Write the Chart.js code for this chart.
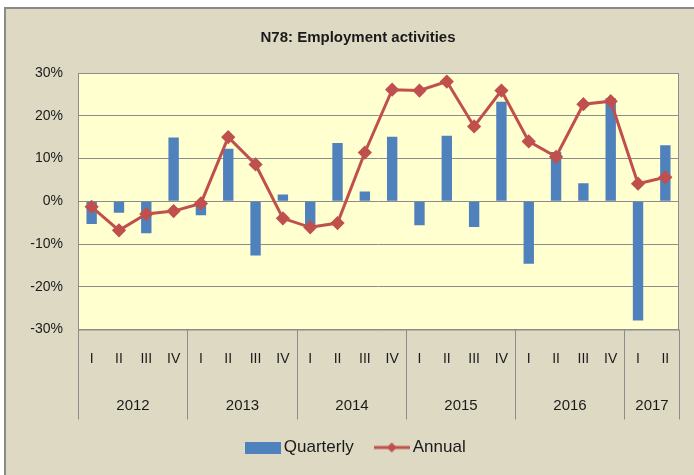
<!DOCTYPE html>
<html>
<head>
<meta charset="utf-8">
<script src="https://cdn.jsdelivr.net/npm/chart.js@4.4.0/dist/chart.umd.min.js"></script>
<style>
  html, body { margin: 0; padding: 0; background: #fff; overflow: hidden; }
  #frame { position: absolute; left: 4px; top: 7px; width: 710px; height: 490px; border: 2px solid #8a8a8a; background: #ddd9c3; }
  #wrap { position: absolute; left: 0; top: 0; width: 694px; height: 475px; }
</style>
</head>
<body>
<div id="frame"></div>
<div id="wrap"><canvas id="chart"></canvas></div>
<script>
const quarters = ['I', 'II', 'III', 'IV', 'I', 'II', 'III', 'IV', 'I', 'II', 'III', 'IV',
  'I', 'II', 'III', 'IV', 'I', 'II', 'III', 'IV', 'I', 'II']
const years = ['2012', '2013', '2014', '2015', '2016', '2017']
const quartersPerYear = [4, 4, 4, 4, 4, 2]
const quarterly = [-5.3, -2.7, -7.5, 14.9, -3.3, 12.3, -12.7, 1.6, -5.6, 13.6, 2.3, 15.1,
  -5.6, 15.3, -6.0, 23.3, -14.6, 11.5, 4.2, 24.1, -27.9, 13.1]
const annual = [-1.3, -6.8, -3.0, -2.3, -0.5, 15.0, 8.6, -4.0, -6.1, -5.1, 11.4, 26.1,
  25.9, 28.0, 17.5, 25.9, 14.0, 10.4, 22.7, 23.4, 4.1, 5.6]

const FONT = "'Liberation Sans', Arial, sans-serif"
const BLUE = '#4f81bd'
const RED = '#c0504d'
const GRID = '#8c8c8c'
const TEXT = '#1a1a1a'

// legend symbols, drawn wider than the legend box so the text sits close
function swatch (kind) {
  const c = document.createElement('canvas')
  c.width = 36
  c.height = 12
  const g = c.getContext('2d')
  if (kind === 'bar') {
    g.fillStyle = BLUE
    g.fillRect(0, 0, 36, 12)
  } else {
    g.strokeStyle = RED
    g.lineWidth = 3
    g.beginPath(); g.moveTo(0, 6); g.lineTo(36, 6); g.stroke()
    g.fillStyle = RED
    g.beginPath(); g.moveTo(18, 1); g.lineTo(23, 6); g.lineTo(18, 11); g.lineTo(13, 6); g.closePath(); g.fill()
  }
  return c
}
const symbols = [swatch('bar'), swatch('line')]

const plotBox = {
  id: 'plotBox',
  beforeDraw (chart) {
    const { ctx, chartArea: a } = chart
    ctx.save()
    ctx.fillStyle = '#ffffd0'
    ctx.fillRect(a.left, a.top, a.right - a.left, a.bottom - a.top)
    ctx.restore()
  },
  beforeDatasetsDraw (chart) {
    const { ctx, chartArea: a } = chart
    ctx.save()
    ctx.strokeStyle = GRID
    ctx.lineWidth = 1
    ctx.strokeRect(a.left + 0.5, a.top + 0.5, a.right - a.left - 1, a.bottom - a.top)
    ctx.restore()
  },
  afterDraw (chart) {
    const { ctx } = chart
    const x = chart.scales.x
    const half = (x.getPixelForValue(1) - x.getPixelForValue(0)) / 2
    const edge = i => Math.round(x.getPixelForValue(i) - half) + 0.5
    ctx.save()
    ctx.strokeStyle = GRID
    ctx.lineWidth = 1
    ctx.fillStyle = TEXT
    ctx.font = '15px ' + FONT
    ctx.textAlign = 'center'
    ctx.textBaseline = 'middle'
    let start = 0
    for (let k = 0; k <= years.length; k++) {
      const px = edge(start)
      ctx.beginPath(); ctx.moveTo(px, x.top); ctx.lineTo(px, x.top + 90); ctx.stroke()
      if (k < years.length) {
        const end = start + quartersPerYear[k]
        ctx.fillText(years[k], (edge(start) + edge(end)) / 2, x.top + 76)
        start = end
      }
    }
    ctx.restore()
  }
}

new Chart(document.getElementById('chart'), {
  data: {
    labels: quarters,
    datasets: [
      {
        type: 'bar',
        label: 'Quarterly',
        data: quarterly,
        backgroundColor: BLUE,
        categoryPercentage: 1,
        barPercentage: 0.38,
        order: 2
      },
      {
        type: 'line',
        label: 'Annual',
        data: annual,
        borderColor: RED,
        backgroundColor: RED,
        borderWidth: 3,
        pointStyle: 'rectRot',
        pointRadius: 5,
        pointBackgroundColor: RED,
        pointBorderColor: RED,
        tension: 0,
        order: 1
      }
    ]
  },
  options: {
    responsive: true,
    maintainAspectRatio: false,
    animation: false,
    layout: { padding: { left: 22, right: 0, top: 0, bottom: 9 } },
    plugins: {
      title: {
        display: true,
        text: 'N78: Employment activities',
        color: TEXT,
        font: { family: FONT, size: 15, weight: 'bold' },
        padding: { top: 29, bottom: 26 }
      },
      legend: {
        position: 'bottom',
        labels: {
          usePointStyle: true,
          pointStyleWidth: 25,
          boxHeight: 12,
          color: TEXT,
          font: { family: FONT, size: 17 },
          padding: 25.5,
          sort: (a, b) => a.datasetIndex - b.datasetIndex,
          generateLabels (chart) {
            const items = Chart.defaults.plugins.legend.labels.generateLabels(chart)
            items.forEach(it => { it.pointStyle = symbols[it.datasetIndex] })
            return items
          }
        }
      },
      tooltip: { enabled: false }
    },
    scales: {
      x: {
        grid: { display: false, drawTicks: false },
        border: { display: false },
        ticks: {
          color: TEXT,
          font: { family: FONT, size: 14 },
          padding: 21,
          maxRotation: 0,
          autoSkip: false
        },
        afterFit (scale) { scale.height = 84 }
      },
      y: {
        min: -30,
        max: 30,
        grid: { color: GRID, drawTicks: false },
        border: { display: false },
        ticks: {
          stepSize: 10,
          padding: 15,
          color: TEXT,
          font: { family: FONT, size: 14 },
          callback: v => v + '%'
        },
        afterFit (scale) { scale.width = 56 }
      },
      // empty right margin beside the plot
      yRight: {
        type: 'linear',
        position: 'right',
        grid: { display: false, drawTicks: false },
        border: { display: false },
        ticks: { display: false },
        afterFit (scale) { scale.width = 15 }
      }
    }
  },
  plugins: [plotBox]
})
</script>
</body>
</html>
